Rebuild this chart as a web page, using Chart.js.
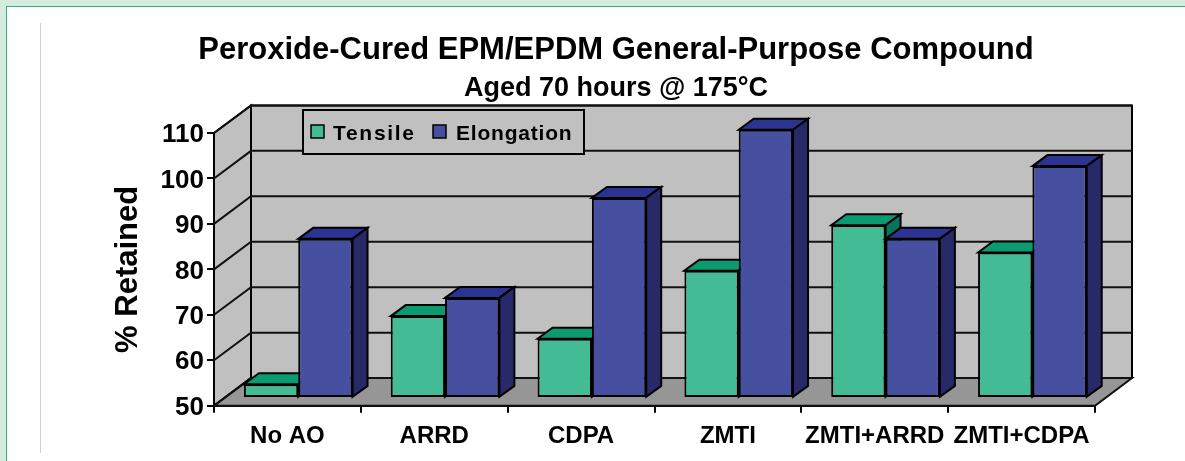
<!DOCTYPE html>
<html><head><meta charset="utf-8">
<style>html,body{margin:0;padding:0;background:#fff;overflow:hidden}canvas{display:block}</style>
<script src="https://cdn.jsdelivr.net/npm/chart.js@4/dist/chart.umd.min.js"></script>
</head><body>
<canvas id="c" width="1185" height="461"></canvas>
<script>
const categories = ['No AO','ARRD','CDPA','ZMTI','ZMTI+ARRD','ZMTI+CDPA'];
const tensile = [53,68,63,78,88,82];
const elongation = [85,72,94,109,85,101];
const yMin = 50;
const yMax = 110;
const FONT = '"Liberation Sans", Arial, sans-serif';
const WALL = {dx:37, dy:27.6};       // floor depth
const PLANE = {dx:10.8, dy:7.8};     // front plane of the bars
const BAR = {dx:15, dy:11};          // bar depth
const SHADES = [
  {front:'#43bc95', top:'#0a9c70', side:'#06735a'},
  {front:'#464fa0', top:'#2c3390', side:'#282968'}
];
function poly(ctx, pts, fill){
  ctx.beginPath();
  pts.forEach((p,i)=> i?ctx.lineTo(p[0],p[1]):ctx.moveTo(p[0],p[1]));
  ctx.closePath();
  if(fill){ctx.fillStyle=fill;ctx.fill();}
  ctx.stroke();
}
function faces(chart,index){
  const c = chart.ctx, s = SHADES[index];
  c.lineWidth=2; c.strokeStyle='#000'; c.lineJoin='miter';
  chart.getDatasetMeta(index).data.forEach(b=>{
    const l=b.x-b.width/2, r=b.x+b.width/2, t=b.y, bt=b.base;
    poly(c,[[l,t],[l+BAR.dx,t-BAR.dy],[r+BAR.dx,t-BAR.dy],[r,t]],s.top);
    poly(c,[[r,t],[r+BAR.dx,t-BAR.dy],[r+BAR.dx,bt-BAR.dy],[r,bt]],s.side);
  });
}
const frame = {
  id:'frame',
  beforeDraw(chart){
    const c = chart.ctx; c.save();
    c.fillStyle='#d4ebe0'; c.fillRect(0,0,1185,6); c.fillRect(0,0,6,461);
    c.fillStyle='#3aa98a'; c.fillRect(6,6,1179,1); c.fillRect(6,6,1,455);
    c.fillStyle='#d0d0d0'; c.fillRect(40,23,1,430);
    c.restore();
  }
};
const box3d = {
  id:'box3d',
  beforeDatasetsDraw(chart){
    const c = chart.ctx, a = chart.chartArea, y = chart.scales.y;
    const d = WALL;
    c.save();
    c.lineWidth = 2; c.strokeStyle = '#000'; c.lineJoin='miter';
    poly(c,[[a.left,a.top],[a.left+d.dx,a.top-d.dy],[a.left+d.dx,a.bottom-d.dy],[a.left,a.bottom]],'#c0c0c0');
    poly(c,[[a.left+d.dx,a.top-d.dy],[a.right+d.dx,a.top-d.dy],[a.right+d.dx,a.bottom-d.dy],[a.left+d.dx,a.bottom-d.dy]],'#c0c0c0');
    c.strokeStyle='#111';
    poly(c,[[a.left,a.bottom],[a.left+d.dx,a.bottom-d.dy],[a.right+d.dx,a.bottom-d.dy],[a.right,a.bottom]],'#969696');
    y.ticks.forEach(t=>{
      const py = y.getPixelForValue(t.value);
      c.beginPath(); c.moveTo(a.left,py); c.lineTo(a.left+d.dx,py-d.dy); c.lineTo(a.right+d.dx,py-d.dy); c.stroke();
    });
    c.restore();
  },
  // the library paints the last dataset first; here Tensile must go under Elongation
  beforeDatasetDraw(chart,args){
    if(args.index===1) return false;
    chart.ctx.save();
    chart.ctx.translate(PLANE.dx,-PLANE.dy);
  },
  afterDatasetDraw(chart,args){
    faces(chart,0);
    chart.getDatasetMeta(1).controller.draw();
    faces(chart,1);
    chart.ctx.restore();
  },
  afterDatasetsDraw(chart){
    const c = chart.ctx;
    c.save();
    c.lineWidth=2; c.strokeStyle='#000';
    c.fillStyle='#c0c0c0'; c.fillRect(303,110,281,44); c.strokeRect(303,110,281,44);
    c.font='bold 21px '+FONT; c.textBaseline='middle'; c.textAlign='left';
    const items=[[311,333,1.7],[433,456,0.8]];
    chart.data.datasets.forEach((ds,i)=>{
      const [mx,tx,sp]=items[i];
      c.lineWidth=1.5; c.strokeStyle='#000';
      c.fillStyle=ds.backgroundColor; c.fillRect(mx,125,13,13); c.strokeRect(mx,125,13,13);
      c.fillStyle='#000'; c.letterSpacing=sp+'px';
      c.fillText(ds.label,tx,134);
    });
    c.restore();
  }
};
new Chart(document.getElementById('c'),{
  type:'bar',
  data:{labels:categories,datasets:[
    {label:'Tensile',data:tensile,base:yMin,backgroundColor:SHADES[0].front,borderColor:'#000',borderWidth:2,borderSkipped:false,clip:false},
    {label:'Elongation',data:elongation,base:yMin,backgroundColor:SHADES[1].front,borderColor:'#000',borderWidth:2,borderSkipped:false,clip:false}
  ]},
  plugins:[frame,box3d],
  options:{
    responsive:false,animation:false,devicePixelRatio:1,
    layout:{padding:{left:47,right:0,top:0,bottom:0}},
    datasets:{bar:{categoryPercentage:0.74,barPercentage:1}},
    plugins:{
      legend:{display:false},tooltip:{enabled:false},
      title:{display:true,text:'Peroxide-Cured EPM/EPDM General-Purpose Compound',color:'#000',
        font:{family:FONT,size:31,weight:'bold'},padding:{top:31.4,bottom:2}},
      subtitle:{display:true,text:'Aged 70 hours @ 175°C',color:'#000',
        font:{family:FONT,size:27,weight:'bold'},padding:{top:1.7,bottom:28.3}}
    },
    scales:{
      x:{offset:true,
        grid:{display:true,drawOnChartArea:false,offset:true,color:'#000',tickColor:'#000',tickLength:7,lineWidth:2},
        border:{display:true,color:'#000',width:2},
        ticks:{color:'#000',autoSkip:false,maxRotation:0,minRotation:0,padding:9,font:{family:FONT,size:24,weight:'bold'}},
        afterFit(s){s.height=55.3;}
      },
      y:{min:yMin,max:yMax,
        grid:{drawOnChartArea:false,color:'#000',tickColor:'#000',tickLength:7,lineWidth:2},
        border:{display:true,color:'#000',width:2},
        ticks:{stepSize:10,color:'#000',padding:3,labelOffset:2,font:{family:FONT,size:26,weight:'bold'}},
        title:{display:true,text:'% Retained',color:'#000',font:{family:FONT,size:31,weight:'bold'},padding:{top:63,bottom:0}},
        afterFit(s){s.width=167;}
      },
      r:{position:'right',display:true,
        grid:{display:false},border:{display:false},ticks:{display:false},
        afterFit(s){s.width=90;}
      }
    }
  }
});
</script>
</body></html>
